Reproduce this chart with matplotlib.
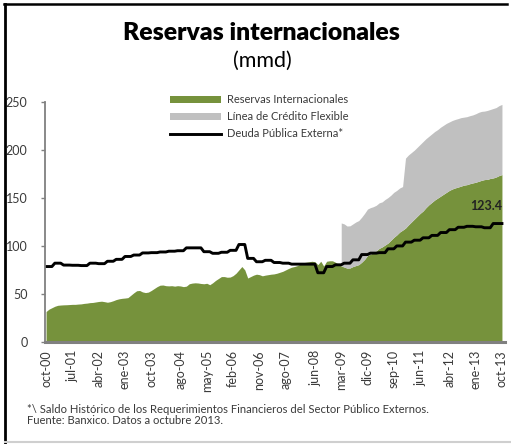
import matplotlib
matplotlib.use("Agg")
import matplotlib.pyplot as plt
from matplotlib.patches import Patch
from matplotlib.lines import Line2D
import numpy as np
import pandas as pd

# meses oct-00 ... oct-13 (157 observaciones mensuales)
inicio = "2000-10"
fin = "2013-10"

# Reservas internacionales, mmd (mensual)
reservas = [
    31.5, 34.0, 35.5,                                                   # 2000
    37.0, 38.0, 38.3, 38.5, 38.6, 38.8, 39.0, 39.0, 39.3, 39.5, 40.0, 40.3,  # 2001
    40.8, 41.0, 41.5, 42.0, 42.3, 41.8, 41.2, 41.8, 42.8, 44.0, 44.8, 45.3,  # 2002
    45.6, 46.0, 48.5, 51.0, 53.2, 53.5, 52.0, 51.3, 51.8, 53.5, 55.5, 57.5,  # 2003
    59.0, 59.2, 58.5, 58.3, 58.5, 58.0, 58.5, 58.2, 57.5, 58.0, 60.5, 61.2,  # 2004
    61.5, 61.3, 60.8, 60.5, 61.0, 59.5, 61.5, 64.0, 66.0, 68.0, 68.0, 67.3,  # 2005
    67.5, 69.0, 71.5, 75.0, 78.5, 75.0, 66.5, 68.0, 69.5, 70.5, 70.0, 68.8,  # 2006
    69.5, 70.0, 70.5, 70.8, 71.5, 72.5, 73.5, 75.0, 76.5, 77.8, 78.5, 79.5,  # 2007
    81.0, 82.5, 83.0, 83.5, 84.0, 83.5, 80.5, 84.0, 79.0, 84.0, 84.5, 84.5,  # 2008
    83.0, 81.0, 79.0, 78.0, 76.8, 77.0, 78.5, 79.5, 80.5, 83.0, 86.0, 90.0,  # 2009
    91.5, 93.0, 95.0, 97.5, 99.0, 101.0, 103.0, 106.0, 109.0, 111.5, 114.5, 116.5,  # 2010
    118.7, 122.0, 125.0, 128.0, 131.0, 134.0, 136.5, 140.0, 143.0, 145.5, 148.0, 150.0,  # 2011
    152.0, 154.0, 156.0, 158.0, 159.5, 160.6, 161.5, 162.5, 163.5, 164.0, 165.0, 165.8,  # 2012
    166.5, 167.5, 168.5, 169.3, 169.5, 170.5, 171.0, 172.0, 173.5, 174.5,  # 2013
]

# Linea de Credito Flexible del FMI, mmd (desde mar-09)
inicio_lcf = "2009-03"
linea_credito = [
    45.0, 45.0, 44.0, 44.0, 44.5, 45.5, 46.0, 47.0, 48.0, 48.5,        # 2009
    48.5, 48.0, 47.5, 47.5, 47.0, 47.5, 47.5, 47.0, 47.0, 46.5, 46.0, 45.5,  # 2010
    73.0, 73.0, 72.5, 72.0, 72.0, 72.0, 72.5, 72.0, 71.5, 71.5, 71.5, 71.5,  # 2011
    72.0, 72.0, 72.0, 71.5, 71.5, 71.5, 71.5, 71.5, 71.0, 71.0, 71.0, 71.0,  # 2012
    71.5, 72.0, 72.0, 71.5, 72.0, 72.0, 72.5, 72.5, 73.0, 73.3,        # 2013
]

# Deuda publica externa, mmd (trimestral, desde 4T-2000)
deuda_trimestral = [
    78.5,
    82.0, 80.0, 79.8, 79.5,
    82.0, 81.5, 84.0, 86.0,
    89.0, 90.5, 92.7, 93.0,
    93.7, 94.5, 95.0, 98.0,
    98.0, 94.0, 92.3, 93.4,
    95.4, 101.5, 87.0, 83.5,
    85.0, 82.7, 82.0, 81.0,
    81.0, 81.0, 72.0, 78.5,
    80.3, 82.0, 85.5, 91.0,
    92.5, 93.0, 97.0, 100.0,
    104.0, 106.0, 108.5, 111.0,
    114.0, 117.0, 119.5, 120.5,
    120.0, 119.0, 123.4, 123.4,
]

meses_es = ["ene", "feb", "mar", "abr", "may", "jun",
            "jul", "ago", "sep", "oct", "nov", "dic"]
etiquetas_x = ["oct-00", "jul-01", "abr-02", "ene-03", "oct-03", "ago-04",
               "may-05", "feb-06", "nov-06", "ago-07", "jun-08", "mar-09",
               "dic-09", "sep-10", "jun-11", "abr-12", "ene-13", "oct-13"]
valores_y = [0, 50, 100, 150, 200, 250]

verde = "#76923C"
gris = "#C0C0C0"
texto = "#3a3a3a"

plt.rcParams["font.family"] = ["Lato", "DejaVu Sans"]

periodos = pd.period_range(inicio, fin, freq="M")
x = np.arange(len(periodos))
nombres = [f"{meses_es[p.month - 1]}-{p.year % 100:02d}" for p in periodos]

reservas = np.array(reservas)
deuda = np.repeat(deuda_trimestral, 3)[:len(x)]
i_lcf = list(periodos).index(pd.Period(inicio_lcf, freq="M"))
x_lcf = x[i_lcf:]
total = reservas[i_lcf:] + np.array(linea_credito)

fig = plt.figure(figsize=(5.11, 4.44), dpi=100)
ax = fig.add_axes([0.089, 0.2304, 0.899, 0.5392])

ax.fill_between(x, 0, reservas, color=verde, lw=0)
ax.fill_between(x_lcf, reservas[i_lcf:], total, color=gris, lw=0)
ax.plot(x, deuda, color="black", lw=2.1)

ax.annotate(f"{deuda[-1]:.1f}", xy=(x[-1], deuda[-1]), xytext=(-11, 8),
            textcoords="offset points", ha="center", va="bottom",
            fontsize=9, fontweight="bold", color="#222222")

ax.set_xlim(-0.2, 157.0)
ax.set_ylim(0, 250)
ax.set_yticks(valores_y)
ax.set_yticklabels([str(v) for v in valores_y], fontsize=9, color=texto)
pos_x = [nombres.index(e) for e in etiquetas_x]
ax.set_xticks(pos_x)
ax.set_xticklabels(etiquetas_x, rotation=90, fontsize=9, color=texto)
ax.tick_params(axis="x", length=0, pad=6)
ax.tick_params(axis="y", length=3, width=1, color="#808080", pad=10)

for lado in ["top", "right"]:
    ax.spines[lado].set_visible(False)
ax.spines["left"].set_color("#808080")
ax.spines["left"].set_linewidth(1.3)
ax.spines["bottom"].set_color("#808080")
ax.spines["bottom"].set_linewidth(2.2)

manijas = [Patch(facecolor=verde, edgecolor="none"),
           Patch(facecolor=gris, edgecolor="none"),
           Line2D([], [], color="black", lw=2.1)]
etiquetas_leyenda = ["Reservas Internacionales", "Línea de Crédito Flexible",
                     "Deuda Pública Externa*"]
fig.legend(manijas, etiquetas_leyenda, loc="upper left",
           bbox_to_anchor=(0.333, 0.788), frameon=False, fontsize=8,
           handlelength=4.6, handleheight=0.55, handletextpad=0.5,
           labelspacing=0.55, borderpad=0, borderaxespad=0,
           labelcolor=texto)

fig.text(0.511, 0.926, "Reservas internacionales", ha="center", va="center",
         fontsize=17.8, fontweight="heavy", color="black")
fig.text(0.513, 0.864, "(mmd)", ha="center", va="center",
         fontsize=15.5, color="black")

fig.text(0.053, 0.078, "*\\ Saldo Histórico de los Requerimientos Financieros "
         "del Sector Público Externos.", fontsize=8.1, color=texto, va="center")
fig.text(0.053, 0.052, "Fuente: Banxico. Datos a octubre 2013.",
         fontsize=8.1, color=texto, va="center")

# marco del recuadro
fig.add_artist(Line2D([0.01, 0.01], [0.0, 0.991], color="black", lw=2,
                      transform=fig.transFigure))
fig.add_artist(Line2D([0.008, 0.992], [0.991, 0.991], color="black", lw=1.8,
                      transform=fig.transFigure))
fig.add_artist(Line2D([0.01, 1.0], [0.004, 0.004], color="#cfcfcf", lw=1.5,
                      transform=fig.transFigure))

fig.savefig("out.png", dpi=100)
